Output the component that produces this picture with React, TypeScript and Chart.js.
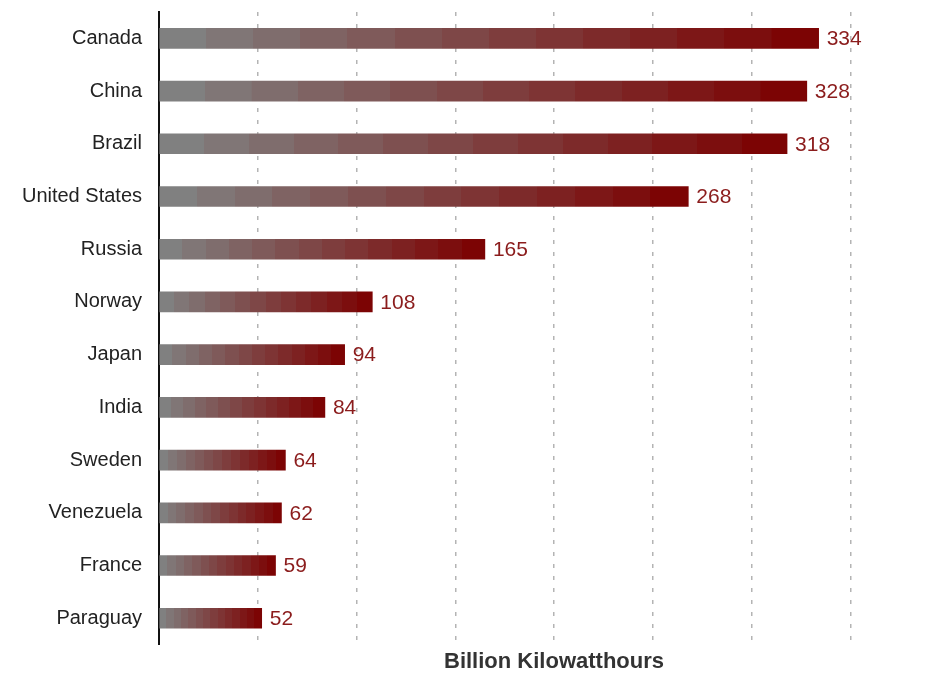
import React, { useEffect, useRef } from "react";
import { Chart, registerables } from "chart.js";

Chart.register(...registerables);

const categories = [
  "Canada",
  "China",
  "Brazil",
  "United States",
  "Russia",
  "Norway",
  "Japan",
  "India",
  "Sweden",
  "Venezuela",
  "France",
  "Paraguay",
];
const values = [334, 328, 318, 268, 165, 108, 94, 84, 64, 62, 59, 52];
const axisTitle = "Billion Kilowatthours";
const xMax = 400;
const xStep = 50;

const FONT = "'Liberation Sans', Arial, sans-serif";

function stepGradient(ctx: CanvasRenderingContext2D, x0: number, x1: number) {
  const g = ctx.createLinearGradient(x0, 0, x1, 0);
  const N = 14;
  const from = [128, 128, 128];
  const to = [124, 4, 4];
  for (let i = 0; i < N; i++) {
    const t = i / (N - 1);
    const c = from.map((f, k) => Math.round(f + (to[k] - f) * t));
    const col = `rgb(${c[0]},${c[1]},${c[2]})`;
    g.addColorStop(i / N, col);
    g.addColorStop(Math.min(1, (i + 1) / N - 0.0001), col);
  }
  return g;
}

const valueLabels = {
  id: "valueLabels",
  afterDatasetsDraw(chart: any) {
    const ctx = chart.ctx;
    const meta = chart.getDatasetMeta(0);
    ctx.save();
    ctx.font = `21px ${FONT}`;
    ctx.fillStyle = "#8b1c1c";
    ctx.textAlign = "left";
    ctx.textBaseline = "middle";
    meta.data.forEach((bar: any, i: number) => {
      ctx.fillText(String(values[i]), bar.x + 8, bar.y + 1);
    });
    ctx.restore();
  },
};

export default function App() {
  const ref = useRef<HTMLCanvasElement | null>(null);

  useEffect(() => {
    document.body.style.margin = "0";
    const canvas = ref.current;
    if (!canvas) return;
    const chart = new Chart(canvas, {
      type: "bar",
      data: {
        labels: categories,
        datasets: [
          {
            data: values,
            barThickness: 20,
            borderWidth: 0,
            backgroundColor: (c: any) => {
              const ch = c.chart;
              const xs = ch.scales && ch.scales.x;
              if (!xs || !ch.chartArea || c.dataIndex === undefined) return "#808080";
              const v = values[c.dataIndex];
              const x0 = xs.getPixelForValue(0);
              const x1 = xs.getPixelForValue(v);
              return stepGradient(ch.ctx, x0, x1);
            },
          },
        ],
      },
      options: {
        indexAxis: "y",
        animation: false,
        responsive: false,
        maintainAspectRatio: false,
        layout: { padding: { top: 12, right: 1, bottom: 0, left: 0 } },
        plugins: {
          legend: { display: false },
          tooltip: { enabled: false },
          title: { display: false },
        },
        scales: {
          x: {
            min: 0,
            max: xMax,
            ticks: { display: false, stepSize: xStep },
            grid: {
              display: true,
              drawTicks: false,
              color: "#b4b4b4",
              lineWidth: 1.5,
            },
            border: { display: false, dash: [4, 8] },
            title: {
              display: true,
              text: axisTitle,
              color: "#333",
              font: { family: FONT, size: 22, weight: "bold" },
              padding: { top: 4, bottom: 0 },
            },
          },
          y: {
            grid: { display: false, drawTicks: false },
            border: { display: true, color: "#111", width: 2 },
            ticks: {
              color: "#222",
              padding: 17,
              font: { family: FONT, size: 20 },
            },
            afterFit: (scale: any) => {
              scale.width = 159;
              scale.paddingTop = 0;
              scale.paddingBottom = 0;
            },
          },
        },
      },
      plugins: [valueLabels],
    } as any);
    return () => chart.destroy();
  }, []);

  return (
    <div style={{ width: 942, height: 675, overflow: "hidden", background: "#fff" }}>
      <canvas ref={ref} width={950} height={675} style={{ display: "block" }} />
    </div>
  );
}
